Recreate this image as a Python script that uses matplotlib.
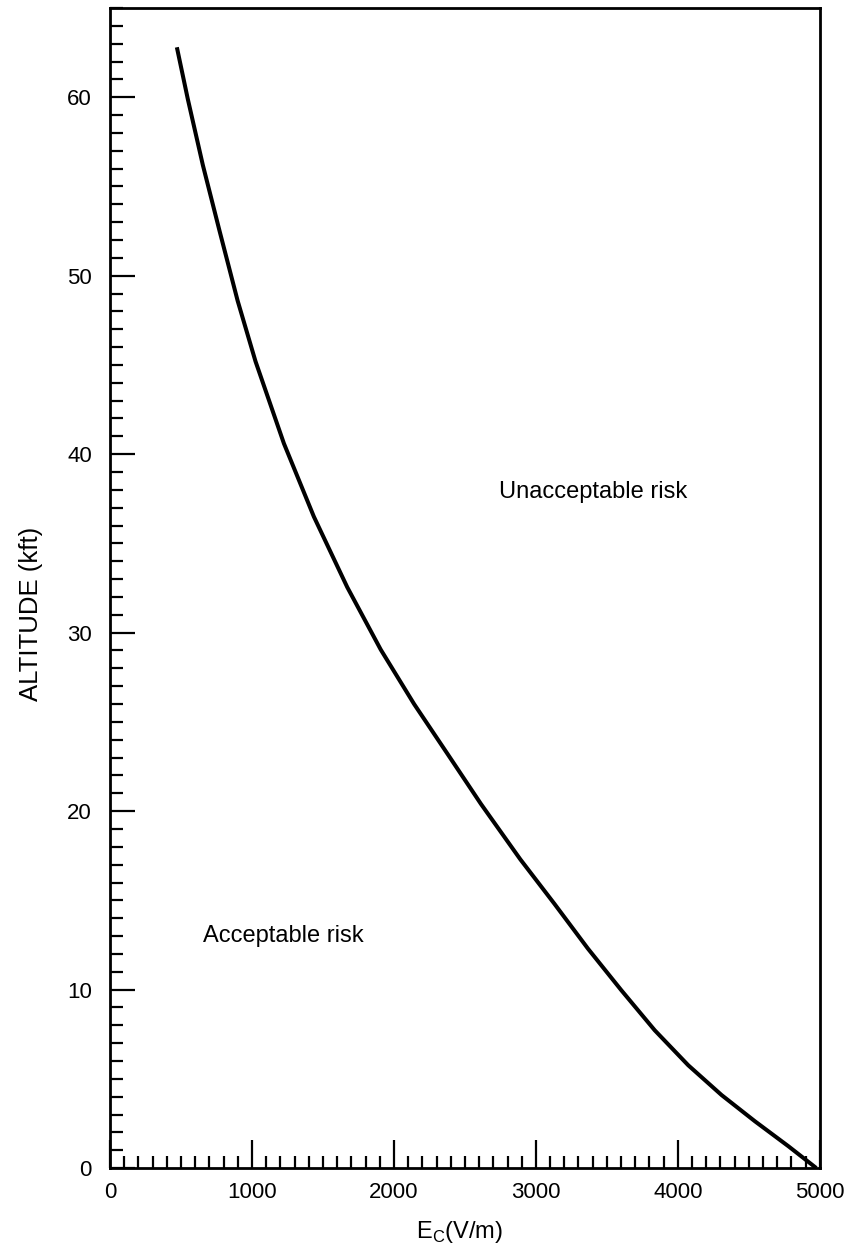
import numpy as np
import matplotlib
matplotlib.use('Agg')
import matplotlib.pyplot as plt
from matplotlib.ticker import MultipleLocator

# curve: E_c (V/m) vs altitude (kft)
ec = [471, 548, 654, 772, 899, 1025, 1225, 1436, 1671, 1907, 2142, 2378, 2613,
      2890, 3131, 3366, 3602, 3837, 4073, 4308, 4543, 4779, 4975]
alt = [62.8, 59.9, 56.2, 52.5, 48.6, 45.2, 40.6, 36.5, 32.55, 29.05, 26.0, 23.2, 20.4,
       17.3, 14.8, 12.3, 9.96, 7.72, 5.76, 4.09, 2.62, 1.22, 0.0]

x_ticks = [0, 1000, 2000, 3000, 4000, 5000]
y_ticks = [0, 10, 20, 30, 40, 50, 60]

plt.rcParams['font.family'] = ['Liberation Sans', 'DejaVu Sans']

fig = plt.figure(figsize=(8.54, 12.51), dpi=100)
ax = fig.add_axes([0.1288, 0.0663, 0.8312, 0.9273])

ax.plot(ec, alt, color='black', lw=2.9, solid_capstyle='butt', solid_joinstyle='round')

ax.set_xlim(0, 5000)
ax.set_ylim(0, 65)
ax.set_xticks(x_ticks)
ax.set_yticks(y_ticks)
ax.xaxis.set_minor_locator(MultipleLocator(100))
ax.yaxis.set_minor_locator(MultipleLocator(1))

ax.tick_params(which='both', direction='in', width=1.6, labelsize=16)
ax.tick_params(axis='y', which='major', length=18, pad=13)
ax.tick_params(axis='y', which='minor', length=9)
ax.tick_params(axis='x', which='major', length=20, pad=10)
ax.tick_params(axis='x', which='minor', length=9)
ax.tick_params(top=False, right=False)

for s in ax.spines.values():
    s.set_linewidth(2)

ax.text(3400, 37.9, 'Unacceptable risk', fontsize=17, ha='center', va='center')
ax.text(1220, 13.0, 'Acceptable risk', fontsize=17, ha='center', va='center')

ax.set_xlabel(r'E$_\mathregular{C}$(V/m)', fontsize=17)
ax.xaxis.set_label_coords(0.492, -0.044)
ax.set_ylabel('ALTITUDE (kft)', fontsize=18.5)
ax.yaxis.set_label_coords(-0.094, 0.478)

fig.savefig('out.png', dpi=100)
